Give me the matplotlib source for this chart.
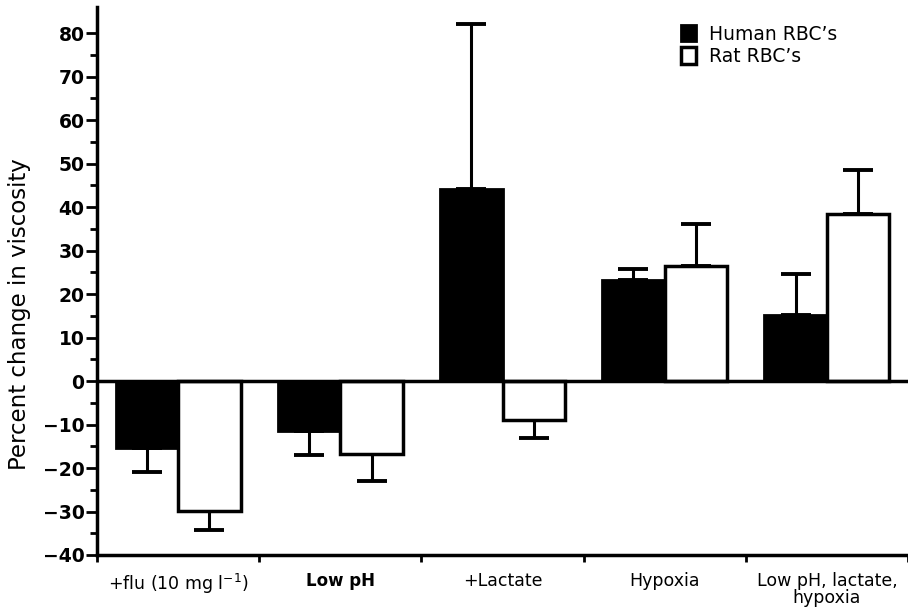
import numpy as np
import matplotlib.pyplot as plt
from matplotlib.patches import Patch
from matplotlib.ticker import FixedLocator

plt.rcParams['font.family'] = ['DejaVu Sans']

conditions = ['+flu (10 mg l$^{-1}$)', 'Low pH', '+Lactate', 'Hypoxia',
              'Low pH, lactate,\nhypoxia']
human = [-15.4, -11.5, 44.2, 23.2, 15.1]
human_err = [5.6, 5.5, 37.8, 2.5, 9.4]
rat = [-29.8, -16.7, -8.9, 26.4, 38.5]
rat_err = [4.4, 6.3, 4.1, 9.6, 10.1]

fig = plt.figure(figsize=(9.08, 6.09), dpi=100)
ax = fig.add_axes([97/908, 1 - 555/609, 811/908, 548/609])

x = np.arange(len(conditions)) + 0.5
w = 0.385

ax.bar(x - w/2, human, w, color='black', edgecolor='black', linewidth=2,
       zorder=2)
ax.bar(x + w/2, rat, w, color='white', edgecolor='black', linewidth=2.5,
       zorder=2)

# one-sided error bars, pointing away from zero
for xs, vals, errs in [(x - w/2, human, human_err), (x + w/2, rat, rat_err)]:
    for xi, v, e in zip(xs, vals, errs):
        lo, hi = (0, e) if v >= 0 else (e, 0)
        ax.errorbar(xi, v, yerr=[[lo], [hi]], fmt='none', ecolor='black',
                    elinewidth=2.2, capsize=11, capthick=2.8, zorder=1)

ax.axhline(0, color='black', lw=2.5, zorder=3)

ax.set_xlim(0, 5)
ax.set_ylim(-40, 86)
ax.set_yticks(range(-40, 81, 10))
ax.yaxis.set_minor_locator(FixedLocator(np.arange(-35, 80, 10)))
ax.set_xticks(x)
ax.set_xticklabels(conditions, linespacing=0.95)
ax.xaxis.set_minor_locator(FixedLocator(np.arange(0, 6)))

for lab in ax.get_xticklabels():
    if lab.get_text() == 'Low pH':
        lab.set_fontsize(12)
        lab.set_fontweight('bold')
    else:
        lab.set_fontsize(12.5)
for lab in ax.get_yticklabels():
    lab.set_fontsize(13.5)
    lab.set_fontweight('bold')

ax.tick_params(axis='x', which='major', length=0, pad=12)
ax.tick_params(axis='x', which='minor', length=5, width=2, direction='out')
ax.tick_params(axis='y', which='major', length=8, width=2, direction='out', pad=1)
ax.tick_params(axis='y', which='minor', length=5, width=2, direction='out')

for s in ['top', 'right']:
    ax.spines[s].set_visible(False)
for s in ['left', 'bottom']:
    ax.spines[s].set_linewidth(2.5)

ax.set_ylabel('Percent change in viscosity', fontsize=16.5)
ax.yaxis.set_label_coords(-0.081, 0.44)

handles = [Patch(facecolor='black', edgecolor='black', linewidth=2),
           Patch(facecolor='white', edgecolor='black', linewidth=2.5)]
ax.legend(handles, ['Human RBC\u2019s', 'Rat RBC\u2019s'], loc='upper left',
          bbox_to_anchor=(673/908, 1 - 17/609), bbox_transform=fig.transFigure,
          frameon=False, fontsize=13.5, handlelength=0.8, handleheight=1.0,
          handletextpad=0.7, labelspacing=0.2, borderaxespad=0)

fig.savefig('out.png', dpi=100)
